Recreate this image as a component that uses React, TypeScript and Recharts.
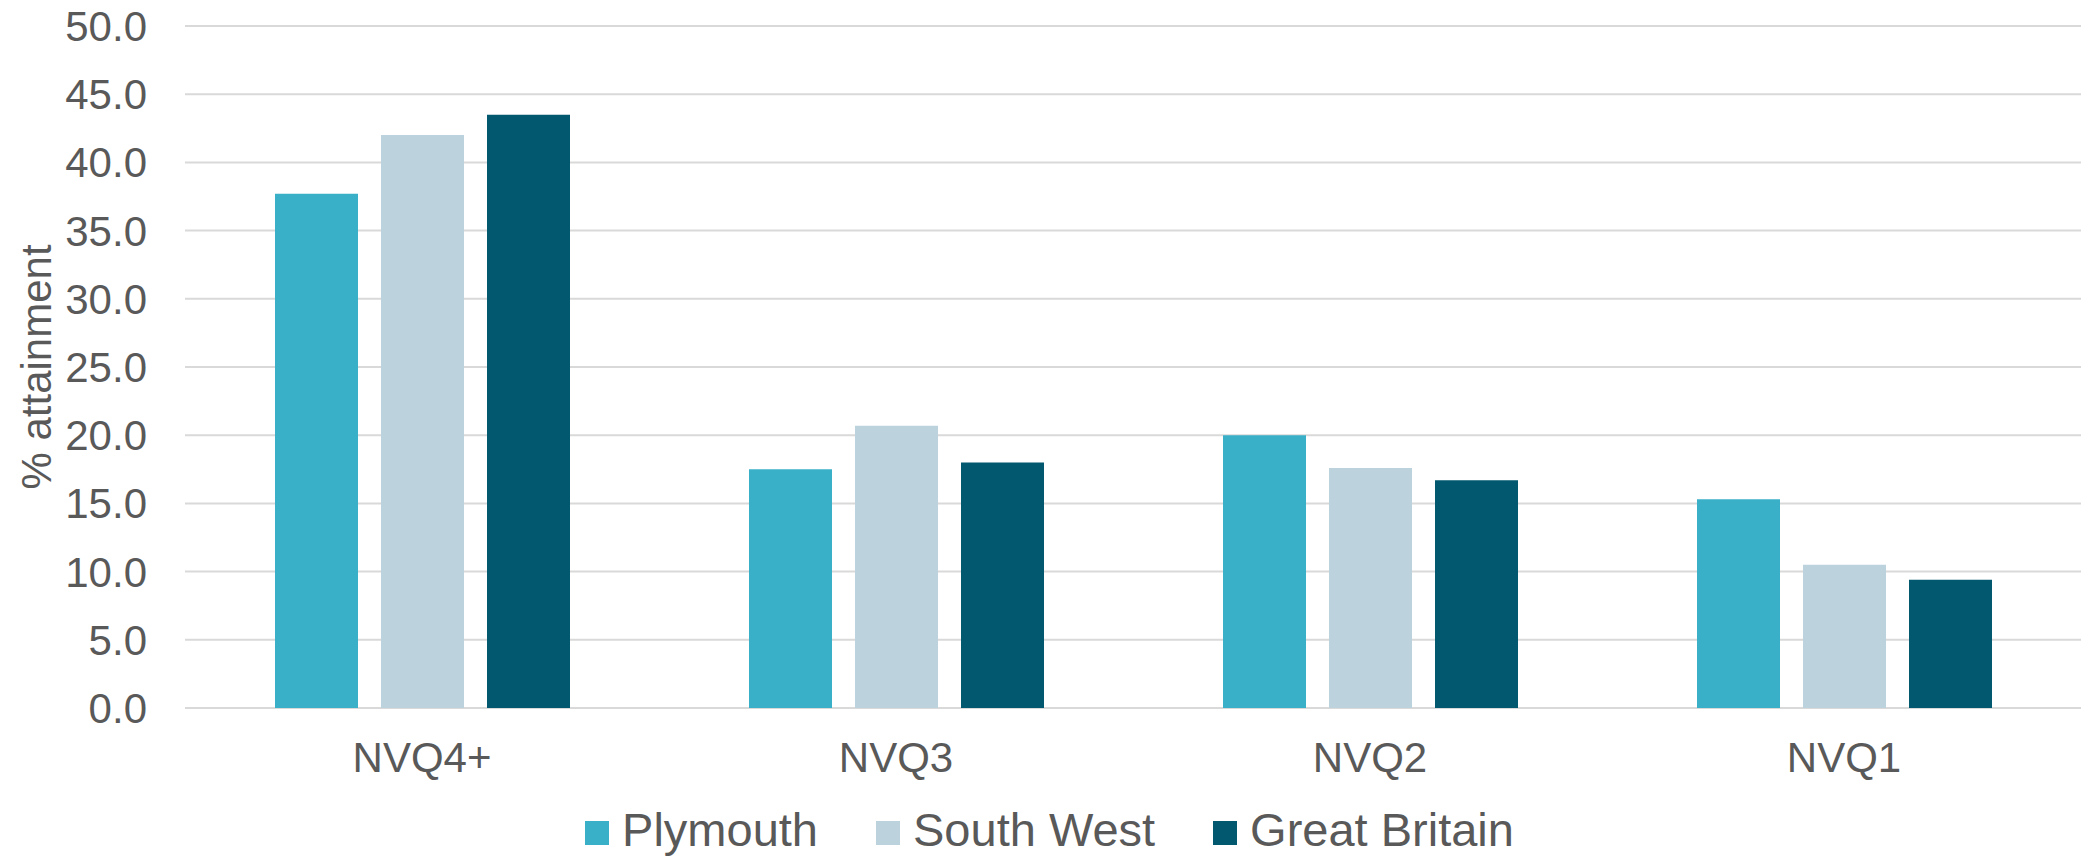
import React from 'react'
import { BarChart, Bar, XAxis, YAxis, CartesianGrid, Legend, Label } from 'recharts'

const W = 2081
const H = 859

const TEXT = '#595959'
const GRID = '#D9D9D9'
const FONT = '"Liberation Sans", Arial, sans-serif'

// qualification levels along the x axis
const LEVELS = ['NVQ4+', 'NVQ3', 'NVQ2', 'NVQ1']

// % of working-age population at each level
const PLYMOUTH = [37.7, 17.5, 20.0, 15.3]
const SOUTH_WEST = [42.0, 20.7, 17.6, 10.5]
const GREAT_BRITAIN = [43.5, 18.0, 16.7, 9.4]

const Y_TICKS = [0, 5, 10, 15, 20, 25, 30, 35, 40, 45, 50]

const SERIES = [
  { key: 'plymouth', name: 'Plymouth', color: '#3AB0C8', values: PLYMOUTH },
  { key: 'southWest', name: 'South West', color: '#BCD2DD', values: SOUTH_WEST },
  { key: 'greatBritain', name: 'Great Britain', color: '#02586E', values: GREAT_BRITAIN },
]

const data = LEVELS.map((level, i) => {
  const row: Record<string, string | number> = { level }
  for (const s of SERIES) row[s.key] = s.values[i]
  return row
})

// rotated axis title, centred on the plot height
function AxisTitle(props: any) {
  const vb = props.viewBox ?? { x: 0, y: 0, width: 0, height: 0 }
  const cx = vb.x + 51
  const cy = vb.y + vb.height / 2
  return (
    <text
      x={0} y={0}
      transform={`translate(${cx},${cy}) rotate(-90)`}
      textAnchor="middle"
      fill={TEXT}
      fontSize={42}
      fontFamily={FONT}
    >
      % attainment
    </text>
  )
}

function LegendRow() {
  return (
    <div style={{
      display: 'flex', justifyContent: 'center', alignItems: 'center',
      height: 60, paddingLeft: 18, gap: 58, fontFamily: FONT,
    }}>
      {SERIES.map((s) => (
        <div key={s.key} style={{ display: 'flex', alignItems: 'center', gap: 13 }}>
          <span style={{ display: 'inline-block', width: 24, height: 24, marginTop: 7, background: s.color }} />
          <span style={{ fontSize: 47, lineHeight: '47px', color: TEXT }}>{s.name}</span>
        </div>
      ))}
    </div>
  )
}

export default function App() {
  return (
    <div style={{ position: 'absolute', left: 0, top: 0, width: W, height: H, background: '#fff', fontFamily: FONT }}>
      <BarChart
        width={W} height={H} data={data}
        margin={{ top: 26, right: 0, left: 0, bottom: 0 }}
        barSize={83} barGap={23}
      >
        <CartesianGrid vertical={false} stroke={GRID} strokeWidth={2} />
        <XAxis
          dataKey="level" interval={0} height={91}
          axisLine={false} tickLine={false} tickSize={0} tickMargin={34}
          tick={{ fontSize: 42, fill: TEXT, fontFamily: FONT }}
        />
        <YAxis
          domain={[0, 50]} ticks={Y_TICKS} width={185}
          axisLine={false} tickLine={false} tickSize={0} tickMargin={38}
          tickFormatter={(v) => Number(v).toFixed(1)}
          tick={{ fontSize: 42, fill: TEXT, fontFamily: FONT }}
        >
          <Label content={<AxisTitle />} />
        </YAxis>
        <Legend verticalAlign="bottom" content={<LegendRow />} />
        {SERIES.map((s) => (
          <Bar key={s.key} dataKey={s.key} name={s.name} fill={s.color} isAnimationActive={false} />
        ))}
      </BarChart>
    </div>
  )
}
